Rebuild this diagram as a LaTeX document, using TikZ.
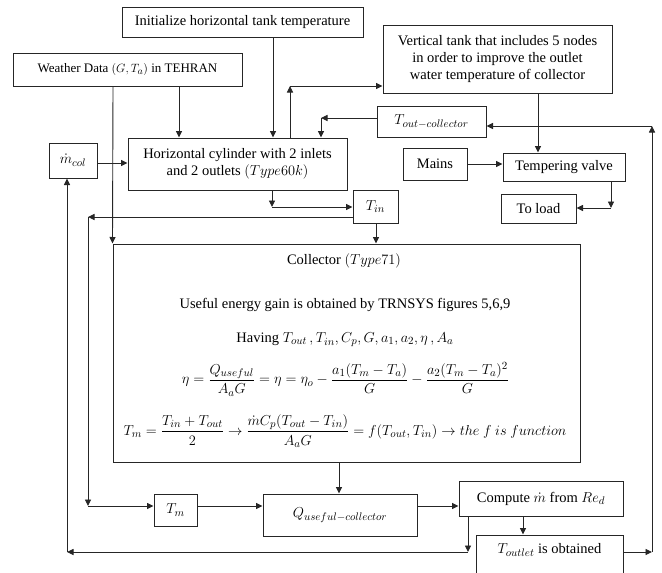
\documentclass[tikz,border=0pt]{standalone}
\usepackage{fontspec}
\setmainfont{Liberation Serif}
\DeclareMathSizes{14.5}{14.5}{11}{8.5}
\DeclareMathSizes{13}{13}{10}{7.5}
\usetikzlibrary{arrows.meta,calc}
\begin{document}
\begin{tikzpicture}[x=1pt,y=-1pt,
  box/.style={draw=black!85, line width=1pt, inner sep=0pt, align=center, font=\fontsize{14.5}{17}\selectfont},
  txt/.style={inner sep=0pt, align=center, font=\fontsize{14.5}{17}\selectfont},
  arr/.style={draw=black!85, line width=0.9pt, -{Triangle[length=6.5pt,width=6pt]}}]
\useasboundingbox (0,0) rectangle (662,573);
\clip (0,0) rectangle (662,573);
% boxes
\node[box, minimum width=241, minimum height=30] (init) at (242.5,22) {Initialize horizontal tank temperature};
\node[box, minimum width=229, minimum height=33, font=\fontsize{13}{15}\selectfont] (weather) at (127.5,69.5) {Weather Data $(G,T_a)$ in TEHRAN};
\node[box, minimum width=219, minimum height=52] (cyl) at (237.5,164) {Horizontal cylinder with 2 inlets\\and 2 outlets $(Type60k)$};
\node[box, minimum width=48, minimum height=35] (mcol) at (73,160.5) {$\dot m_{col}$};
\node[box, minimum width=229, minimum height=68] (vtank) at (497.5,59) {Vertical tank that includes 5 nodes\\in order to improve the outlet\\water temperature of collector};
\node[box, minimum width=109, minimum height=31] (tout) at (431.5,121.5) {$T_{out-collector}$};
\node[box, minimum width=64, minimum height=32] (mains) at (435,164) {Mains};
\node[box, minimum width=122, minimum height=28] (valve) at (564,167) {Tempering valve};
\node[box, minimum width=75, minimum height=29] (load) at (538.5,208.5) {To load};
\node[box, minimum width=45, minimum height=33] (tin) at (375.5,206.5) {$T_{in}$};
\node[box, minimum width=467, minimum height=218] (coll) at (346.5,353) {};
\node[txt] (ct1) at (344,261) {Collector $(Type71)$};
\node[txt] (ct2) at (345,305) {Useful energy gain is obtained by TRNSYS figures 5,6,9};
\node[txt] (ct3) at (345,340) {Having $T_{out}\,, T_{in}, C_p, G, a_1, a_2, \eta\,, A_a$};
\node[txt] (ct4) at (345.5,379) {$\displaystyle \eta=\frac{Q_{useful}}{A_aG}=\eta=\eta_o-\frac{a_1(T_m-T_a)}{G}-\frac{a_2(T_m-T_a)^2}{G}$};
\node[txt] (ct5) at (345,431) {$\displaystyle T_m=\frac{T_{in}+T_{out}}{2}\rightarrow\frac{\dot mC_p(T_{out}-T_{in})}{A_aG}=f(T_{out},T_{in})\rightarrow the\ f\ is\ function$};
\node[box, minimum width=43, minimum height=32] (tm) at (175.5,510) {$T_m$};
\node[box, minimum width=154, minimum height=42] (q) at (340,515) {$Q_{useful-collector}$};
\node[box, minimum width=164, minimum height=35] (comp) at (541,498.5) {Compute $\dot m$ from $Re_d$};
\node[box, minimum width=147, minimum height=45] (toutlet) at (549.5,557.5) {};
\node[txt] (toutlettext) at (549.5,550) {$T_{outlet}$ is obtained};
% coordinates
\coordinate (xw) at (179,0);
\coordinate (xw2) at (113,0);
\coordinate (xi) at (273,0);
\coordinate (c1) at (290,86);
\coordinate (c2) at (321,118);
\coordinate (xv) at (538,0);
\coordinate (c3) at (611,208);
\coordinate (c4) at (272,207);
\coordinate (xt) at (376,0);
\coordinate (c5) at (88,217);
\coordinate (c6) at (88,506);
\coordinate (xq) at (339,0);
\coordinate (xc) at (523,0);
\coordinate (c7) at (468,552);
\coordinate (c8) at (67,552);
\coordinate (ymc) at (0,163);
\coordinate (c9) at (652,552);
\coordinate (c10) at (652,126);
% connectors
\draw[arr] (weather.south -| xw) -- (cyl.north -| xw);
\draw[arr] (weather.south -| xw2) -- (coll.north west);
\draw[arr] (init.south -| xi) -- (cyl.north -| xi);
\draw[arr] (cyl.north -| c1) -- (c1);
\draw[arr] (c1) -- (vtank.west |- c1);
\draw[arr] (tout.west |- c2) -- (c2);
\draw[arr] (c2) -- (cyl.north -| c2);
\draw[arr] (vtank.south -| xv) -- (valve.north -| xv);
\draw[arr] (mains.east) -- (valve.west |- mains.east);
\draw[arr] (valve.south -| c3) -- (c3);
\draw[arr] (c3) -- (load.east |- c3);
\draw[arr] (cyl.south -| c4) -- (c4);
\draw[arr] (c4) -- (tin.west |- c4);
\draw[arr] (tin.south -| xt) -- (coll.north -| xt);
\draw[arr] (tin.west |- c5) -- (c5);
\draw[arr] (c5) -- (c6);
\draw[arr] (c6) -- (tm.west |- c6);
\draw[arr] (tm.east |- c6) -- (q.west |- c6);
\draw[arr] (q.east |- c6) -- (comp.west |- c6);
\draw[arr] (coll.south -| xq) -- (q.north -| xq);
\draw[arr] (comp.south -| xc) -- (toutlet.north -| xc);
\draw[arr] (comp.south -| c7) -- (c7);
\draw[arr] (c7) -- (c8);
\draw[arr] (c8) -- (mcol.south -| c8);
\draw[arr] (mcol.east |- ymc) -- (cyl.west |- ymc);
\draw[arr] (toutlet.east |- c9) -- (c9);
\draw[arr] (c9) -- (c10);
\draw[arr] (c10) -- (tout.east |- c10);
\end{tikzpicture}
\end{document}
